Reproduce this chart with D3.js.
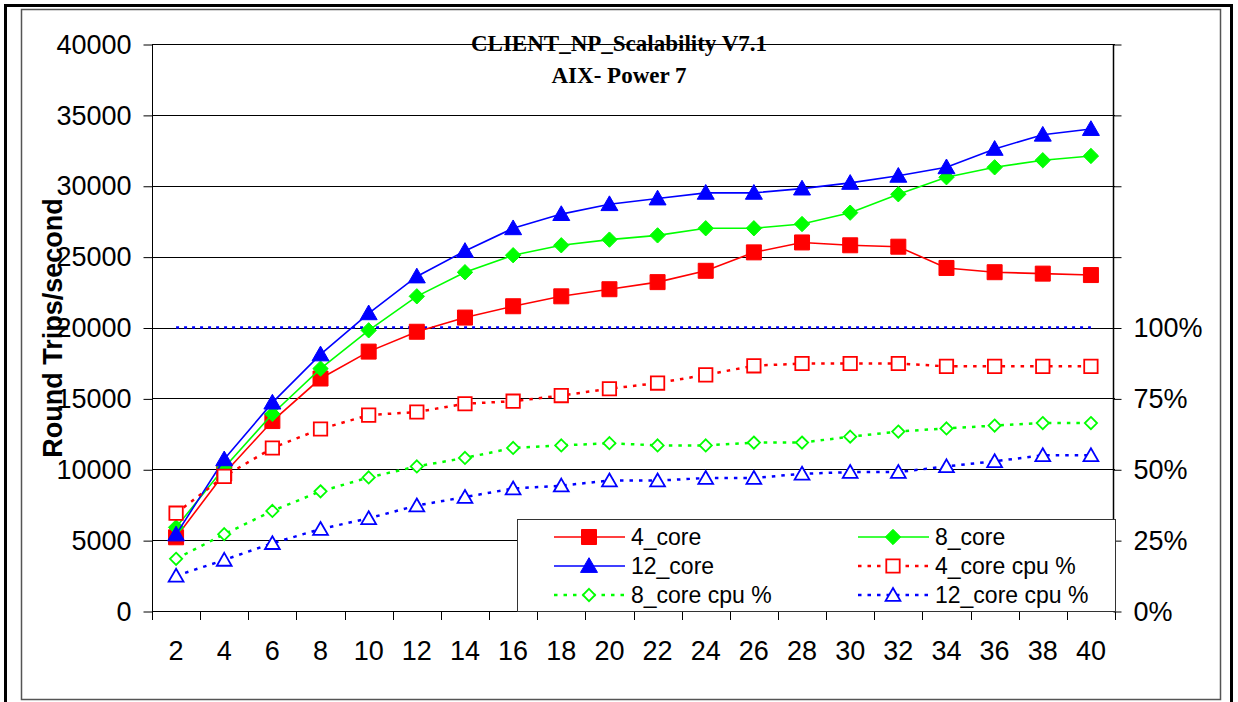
<!DOCTYPE html>
<html>
<head>
<meta charset="utf-8">
<script src="https://cdn.jsdelivr.net/npm/d3@7"></script>
<style>
  body { margin: 0; background: #fff; }
  text { font-family: "Liberation Sans", Arial, sans-serif; fill: #000; }
</style>
</head>
<body>
<div id="d3-container"></div>
<script>

// threads on the x axis
const categories = [2, 4, 6, 8, 10, 12, 14, 16, 18, 20, 22, 24, 26, 28, 30, 32, 34, 36, 38, 40];

// round trips / second (left axis)
const core4 = [5200, 9700, 13400, 16400, 18300, 19700, 20700, 21500, 22200, 22700, 23200, 24000, 25300, 26000, 25800, 25700, 24200, 23900, 23800, 23700];
const core8 = [5900, 10100, 13900, 17100, 19800, 22200, 23900, 25100, 25800, 26200, 26500, 27000, 27000, 27300, 28100, 29400, 30600, 31300, 31800, 32100];
const core12 = [5400, 10700, 14700, 18100, 21000, 23600, 25400, 27000, 28000, 28700, 29100, 29500, 29500, 29800, 30200, 30700, 31300, 32600, 33600, 34000];

// cpu % (right axis)
const cpu4 = [34.5, 47.5, 57.5, 64.2, 69.1, 70.2, 73.1, 74.0, 76.0, 78.4, 80.4, 83.3, 86.5, 87.3, 87.3, 87.3, 86.3, 86.3, 86.3, 86.3];
const cpu8 = [18.4, 27.1, 35.3, 42.2, 47.1, 51.0, 54.0, 57.5, 58.4, 59.2, 58.4, 58.4, 59.4, 59.4, 61.5, 63.3, 64.4, 65.4, 66.3, 66.3];
const cpu12 = [12.4, 18.0, 23.9, 28.9, 32.7, 37.2, 40.2, 43.2, 44.2, 46.0, 46.0, 46.9, 46.9, 48.4, 49.0, 49.0, 51.0, 52.8, 54.9, 54.9];
const cpuLimit = 100;

const leftTicks = [0, 5000, 10000, 15000, 20000, 25000, 30000, 35000, 40000];
const rightTicks = [0, 25, 50, 75, 100, 125, 150, 175, 200];
const rightLabels = [0, 25, 50, 75, 100];

const W = 1238, H = 702;
const plot = { left: 152, right: 1115, top: 44, bottom: 611 };

const series = [
    { name: "4_core", values: core4, color: "#ff0000", shape: "square", filled: true, axis: "left" },
    { name: "8_core", values: core8, color: "#00ff00", shape: "diamond", filled: true, axis: "left" },
    { name: "12_core", values: core12, color: "#0000ff", shape: "triangle", filled: true, axis: "left" },
    { name: "4_core cpu %", values: cpu4, color: "#ff0000", shape: "square", filled: false, axis: "right" },
    { name: "8_core cpu %", values: cpu8, color: "#00ff00", shape: "diamond", filled: false, axis: "right" },
    { name: "12_core cpu %", values: cpu12, color: "#0000ff", shape: "triangle", filled: false, axis: "right" }
];

const xScale = d3.scaleBand()
    .domain(categories)
    .range([plot.left, plot.right])
    .padding(0);
const xc = d => xScale(d) + xScale.bandwidth() / 2;

const yScale = d3.scaleLinear().domain([0, 40000]).range([plot.bottom, plot.top]);
const y2Scale = d3.scaleLinear().domain([0, 200]).range([plot.bottom, plot.top]);

const svg = d3.select("#d3-container")
    .append("svg")
    .attr("width", W)
    .attr("height", H);

// outer frames
svg.append("rect")
    .attr("x", 5.5).attr("y", 5.5)
    .attr("width", 1226).attr("height", 720)
    .attr("fill", "#fff").attr("stroke", "#000").attr("stroke-width", 3);
svg.append("rect")
    .attr("x", 21.5).attr("y", 9.5)
    .attr("width", 1199).attr("height", 690)
    .attr("fill", "#fff").attr("stroke", "#555").attr("stroke-width", 1.5);

// gridlines
svg.append("g")
    .selectAll("line")
    .data(leftTicks.filter(d => d > 0))
    .join("line")
    .attr("x1", plot.left).attr("x2", plot.right)
    .attr("y1", d => Math.round(yScale(d)) + 0.5)
    .attr("y2", d => Math.round(yScale(d)) + 0.5)
    .attr("stroke", "#000").attr("stroke-width", 1);

// left axis
const yAxis = d3.axisLeft(yScale).tickValues(leftTicks).tickSize(9).tickPadding(12).tickFormat(d3.format("d"));
svg.append("g")
    .attr("transform", "translate(" + (plot.left + 0.5) + ",0.5)")
    .call(yAxis)
    .call(g => g.select(".domain").remove())
    .call(g => g.selectAll("text").attr("font-size", 27).attr("font-family", "Liberation Sans, Arial").attr("fill", "#000"))
    .call(g => g.selectAll("line").attr("stroke", "#000"));
svg.append("line")
    .attr("x1", plot.left + 0.5).attr("x2", plot.left + 0.5)
    .attr("y1", plot.top).attr("y2", plot.bottom + 1)
    .attr("stroke", "#000");

// right axis
const y2Axis = d3.axisRight(y2Scale).tickValues(rightTicks).tickSize(8).tickPadding(12)
    .tickFormat(d => rightLabels.includes(d) ? d + "%" : "");
svg.append("g")
    .attr("transform", "translate(" + (plot.right - 1.5) + ",0.5)")
    .call(y2Axis)
    .call(g => g.select(".domain").remove())
    .call(g => g.selectAll("text").attr("font-size", 27).attr("font-family", "Liberation Sans, Arial").attr("fill", "#000"))
    .call(g => g.selectAll("line").attr("stroke", "#000"));
svg.append("line")
    .attr("x1", plot.right - 1.5).attr("x2", plot.right - 1.5)
    .attr("y1", plot.top).attr("y2", plot.bottom + 1)
    .attr("stroke", "#000").attr("stroke-width", 1.5);

// x axis
svg.append("line")
    .attr("x1", plot.left).attr("x2", plot.right)
    .attr("y1", plot.bottom + 0.5).attr("y2", plot.bottom + 0.5)
    .attr("stroke", "#000");
svg.append("g")
    .selectAll("line")
    .data(categories.concat(["end"]))
    .join("line")
    .attr("x1", (d, i) => Math.round(plot.left + i * xScale.bandwidth()) + 0.5)
    .attr("x2", (d, i) => Math.round(plot.left + i * xScale.bandwidth()) + 0.5)
    .attr("y1", plot.bottom).attr("y2", plot.bottom + 9)
    .attr("stroke", "#000");
svg.append("g")
    .selectAll("text")
    .data(categories)
    .join("text")
    .attr("x", d => xc(d))
    .attr("y", 660)
    .attr("text-anchor", "middle")
    .attr("font-size", 27)
    .text(d => d);

// axis title
svg.append("text")
    .attr("transform", "translate(62,328) rotate(-90)")
    .attr("text-anchor", "middle")
    .attr("font-size", 27)
    .attr("font-weight", "bold")
    .text("Round Trips/second");

// title
const title = svg.append("g")
    .attr("font-weight", "bold")
    .attr("font-size", 23);
title.append("text").attr("x", 619).attr("y", 51).attr("text-anchor", "middle")
    .style("font-family", "Liberation Serif").text("CLIENT_NP_Scalability V7.1");
title.append("text").attr("x", 619).attr("y", 83).attr("text-anchor", "middle")
    .style("font-family", "Liberation Serif").text("AIX- Power 7");

// markers
function marker(sel, s) {
    const big = s.filled;
    let shape;
    if (s.shape === "square") shape = d3.symbol(d3.symbolSquare, big ? 225 : 180);
    else if (s.shape === "diamond") shape = d3.symbol(d3.symbolDiamond2, big ? 150 : 95);
    else shape = d3.symbol(d3.symbolTriangle, big ? 125 : 95);
    sel.attr("d", shape)
        .attr("fill", s.filled ? s.color : "#fff")
        .attr("stroke", s.color)
        .attr("stroke-width", s.filled ? 1 : 1.8);
}

// cpu 100% line
svg.append("line")
    .attr("x1", xc(categories[0])).attr("x2", xc(categories[categories.length - 1]))
    .attr("y1", y2Scale(cpuLimit)).attr("y2", y2Scale(cpuLimit))
    .attr("stroke", "#0000ff").attr("stroke-width", 2.5).attr("stroke-dasharray", "3,5");

series.forEach(s => {
    const ys = s.axis === "left" ? yScale : y2Scale;
    const pts = categories.map((c, i) => [xc(c), ys(s.values[i])]);
    svg.append("path")
        .attr("d", d3.line()(pts))
        .attr("fill", "none")
        .attr("stroke", s.color)
        .attr("stroke-width", s.filled ? 1.6 : 2.5)
        .attr("stroke-dasharray", s.filled ? null : "3.5,6");
    svg.append("g")
        .selectAll("path")
        .data(pts)
        .join("path")
        .attr("transform", p => "translate(" + p[0] + "," + (p[1] + (s.shape === "triangle" ? 1.5 : 0)) + ")")
        .call(sel => marker(sel, s));
});

// legend
const legend = svg.append("g");
legend.append("rect")
    .attr("x", 517.5).attr("y", 519.5)
    .attr("width", 598).attr("height", 92)
    .attr("fill", "#fff").attr("stroke", "#333").attr("stroke-width", 1);
const colX = [554, 858];
const rowY = [537, 566, 595];
series.forEach((s, i) => {
    const cx = colX[i % 2], cy = rowY[Math.floor(i / 2)];
    const g = legend.append("g");
    g.append("line")
        .attr("x1", cx).attr("x2", cx + 71)
        .attr("y1", cy).attr("y2", cy)
        .attr("stroke", s.color)
        .attr("stroke-width", s.filled ? 1.6 : 2.5)
        .attr("stroke-dasharray", s.filled ? null : "3.5,6");
    g.append("path")
        .attr("transform", "translate(" + (cx + 35) + "," + (cy + (s.shape === "triangle" ? 1.5 : 0)) + ")")
        .call(sel => marker(sel, s));
    g.append("text")
        .attr("x", cx + 77).attr("y", cy + 8)
        .attr("font-size", 23)
        .text(s.name);
});

</script>
</body>
</html>
